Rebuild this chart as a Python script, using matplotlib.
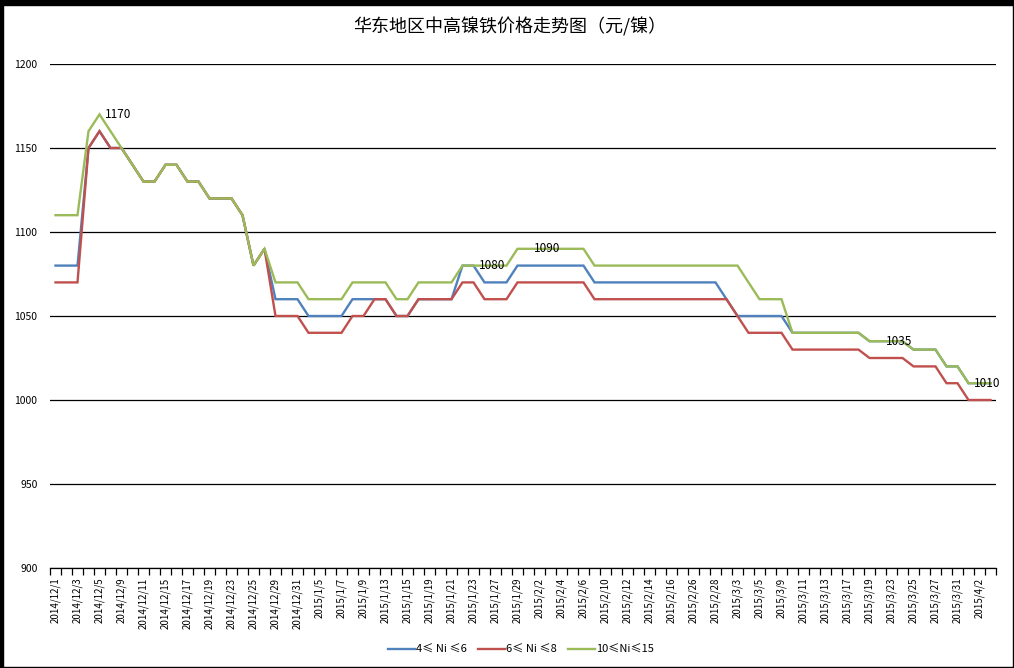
import matplotlib
matplotlib.use("Agg")
import matplotlib.pyplot as plt
from matplotlib.patches import Rectangle

plt.rcParams['font.family'] = ['Noto Sans CJK SC', 'DejaVu Sans']

dates = [
    "2014/12/1", "2014/12/2", "2014/12/3", "2014/12/4", "2014/12/5",
    "2014/12/8", "2014/12/9", "2014/12/10", "2014/12/11", "2014/12/12",
    "2014/12/15", "2014/12/16", "2014/12/17", "2014/12/18", "2014/12/19",
    "2014/12/22", "2014/12/23", "2014/12/24", "2014/12/25", "2014/12/26",
    "2014/12/29", "2014/12/30", "2014/12/31",
    "2015/1/4", "2015/1/5", "2015/1/6", "2015/1/7", "2015/1/8", "2015/1/9",
    "2015/1/12", "2015/1/13", "2015/1/14", "2015/1/15", "2015/1/16",
    "2015/1/19", "2015/1/20", "2015/1/21", "2015/1/22", "2015/1/23",
    "2015/1/26", "2015/1/27", "2015/1/28", "2015/1/29", "2015/1/30",
    "2015/2/2", "2015/2/3", "2015/2/4", "2015/2/5", "2015/2/6",
    "2015/2/9", "2015/2/10", "2015/2/11", "2015/2/12", "2015/2/13",
    "2015/2/14", "2015/2/15", "2015/2/16", "2015/2/17",
    "2015/2/26", "2015/2/27", "2015/2/28",
    "2015/3/2", "2015/3/3", "2015/3/4", "2015/3/5", "2015/3/6",
    "2015/3/9", "2015/3/10", "2015/3/11", "2015/3/12", "2015/3/13",
    "2015/3/16", "2015/3/17", "2015/3/18", "2015/3/19", "2015/3/20",
    "2015/3/23", "2015/3/24", "2015/3/25", "2015/3/26", "2015/3/27",
    "2015/3/30", "2015/3/31", "2015/4/1", "2015/4/2", "2015/4/3",
]

ni_4_6 = [
    1080, 1080, 1080, 1150, 1160, 1150, 1150, 1140, 1130, 1130,
    1140, 1140, 1130, 1130, 1120, 1120, 1120, 1110, 1080, 1090,
    1060, 1060, 1060, 1050, 1050, 1050, 1050, 1060, 1060, 1060,
    1060, 1050, 1050, 1060, 1060, 1060, 1060, 1080, 1080, 1070,
    1070, 1070, 1080, 1080, 1080, 1080, 1080, 1080, 1080, 1070,
    1070, 1070, 1070, 1070, 1070, 1070, 1070, 1070, 1070, 1070,
    1070, 1060, 1050, 1050, 1050, 1050, 1050, 1040, 1040, 1040,
    1040, 1040, 1040, 1040, 1035, 1035, 1035, 1035, 1030, 1030,
    1030, 1020, 1020, 1010, 1010, 1010,
]

ni_6_8 = [
    1070, 1070, 1070, 1150, 1160, 1150, 1150, 1140, 1130, 1130,
    1140, 1140, 1130, 1130, 1120, 1120, 1120, 1110, 1080, 1090,
    1050, 1050, 1050, 1040, 1040, 1040, 1040, 1050, 1050, 1060,
    1060, 1050, 1050, 1060, 1060, 1060, 1060, 1070, 1070, 1060,
    1060, 1060, 1070, 1070, 1070, 1070, 1070, 1070, 1070, 1060,
    1060, 1060, 1060, 1060, 1060, 1060, 1060, 1060, 1060, 1060,
    1060, 1060, 1050, 1040, 1040, 1040, 1040, 1030, 1030, 1030,
    1030, 1030, 1030, 1030, 1025, 1025, 1025, 1025, 1020, 1020,
    1020, 1010, 1010, 1000, 1000, 1000,
]

ni_10_15 = [
    1110, 1110, 1110, 1160, 1170, 1160, 1150, 1140, 1130, 1130,
    1140, 1140, 1130, 1130, 1120, 1120, 1120, 1110, 1080, 1090,
    1070, 1070, 1070, 1060, 1060, 1060, 1060, 1070, 1070, 1070,
    1070, 1060, 1060, 1070, 1070, 1070, 1070, 1080, 1080, 1080,
    1080, 1080, 1090, 1090, 1090, 1090, 1090, 1090, 1090, 1080,
    1080, 1080, 1080, 1080, 1080, 1080, 1080, 1080, 1080, 1080,
    1080, 1080, 1080, 1070, 1060, 1060, 1060, 1040, 1040, 1040,
    1040, 1040, 1040, 1040, 1035, 1035, 1035, 1035, 1030, 1030,
    1030, 1020, 1020, 1010, 1010, 1010,
]

series_names = ["4≤ Ni ≤6", "6≤ Ni ≤8", "10≤Ni≤15"]
series_colors = ["#4F81BD", "#C0504D", "#9BBB59"]
label_points = [4, 38, 43, 75, 83]   # indices labelled on the 10≤Ni≤15 series
title = "华东地区中高镍铁价格走势图（元/镍）"

W, H = 1014, 668
fig = plt.figure(figsize=(W / 100, H / 100), dpi=100)
fig.patch.set_facecolor("black")
fig.add_artist(Rectangle((3 / W, 1.5 / H), (1012.5 - 3) / W, (666.5 - 5) / H,
                         transform=fig.transFigure, facecolor="white",
                         edgecolor="black", linewidth=1, zorder=-10))

ax = fig.add_axes([50 / W, 100 / H, 946 / W, 504 / H])
ax.set_facecolor("white")

x = list(range(len(dates)))
for vals, name, col in zip([ni_4_6, ni_6_8, ni_10_15], series_names, series_colors):
    ax.plot(x, vals, color=col, linewidth=1.7, label=name, solid_joinstyle="miter")

for i in label_points:
    ax.annotate(str(ni_10_15[i]), (x[i], ni_10_15[i]), xytext=(4, 0),
                textcoords="offset points", ha="left", va="center",
                fontsize=8.5, color="black")

ax.set_xlim(-0.5, len(dates) - 0.5)
ax.set_ylim(900, 1200)
ax.set_yticks(range(900, 1201, 50))
ax.tick_params(axis="y", length=0, pad=9, labelsize=7.5)
ax.yaxis.grid(True, color="black", linewidth=0.9)
ax.set_axisbelow(True)

ax.set_xticks(x[::2])
ax.set_xticklabels(dates[::2], rotation=90, fontsize=7)
ax.set_xticks([i - 0.5 for i in range(len(dates) + 1)], minor=True)
ax.tick_params(axis="x", which="major", length=0, pad=7)
ax.tick_params(axis="x", which="minor", length=5, width=0.9, color="black")

for s in ["top", "right", "left"]:
    ax.spines[s].set_visible(False)
ax.spines["bottom"].set_color("black")
ax.spines["bottom"].set_linewidth(0.9)

fig.text(510 / W, 1 - 27 / H, title, ha="center", va="center", fontsize=13)

handles, labels = ax.get_legend_handles_labels()
fig.legend(handles, labels, loc="center", bbox_to_anchor=(521 / W, 1 - 650 / H),
           ncol=3, frameon=False, fontsize=8, handlelength=2.4,
           handletextpad=0.1, columnspacing=1.0)

fig.savefig("out.png", dpi=100, facecolor=fig.get_facecolor())
